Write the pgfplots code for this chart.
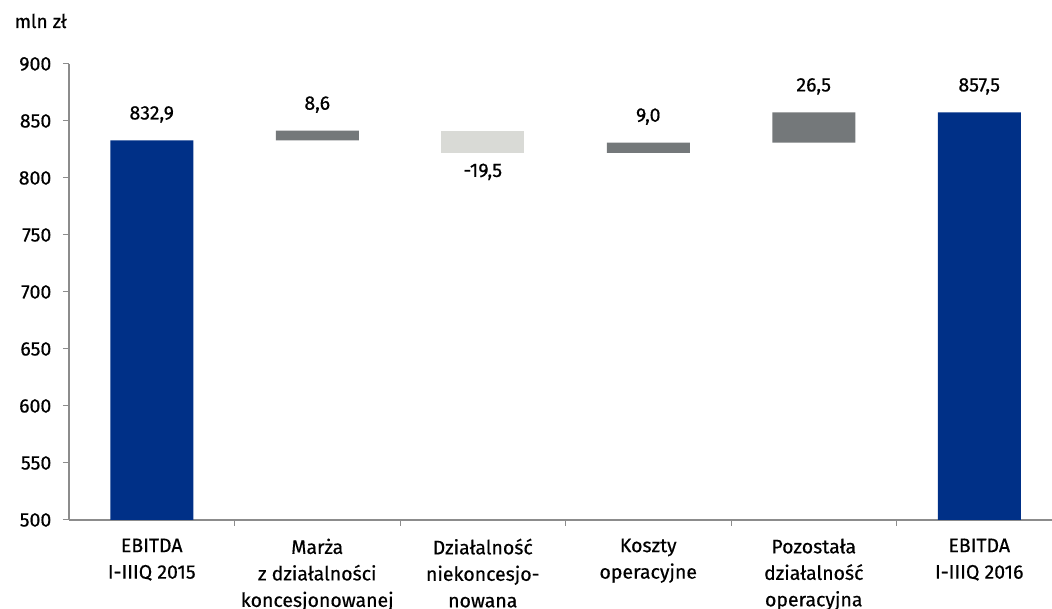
\documentclass[border=0pt]{standalone}
\usepackage{fontspec}
\setmainfont{Fira Sans}[UprightFeatures={FakeBold=0.5}]
\usepackage{pgfplots}
\pgfplotsset{compat=1.18}
\definecolor{navy}{RGB}{0,48,135}
\definecolor{dgray}{RGB}{116,120,122}
\definecolor{lgray}{RGB}{217,218,214}
\definecolor{axgray}{RGB}{140,140,140}
\begin{document}
\fontsize{19.5pt}{27pt}\selectfont
\begin{tikzpicture}[x=1pt,y=1pt]
\useasboundingbox (0,0) rectangle (1052,609);
\node[anchor=west,font=\fontsize{19pt}{20pt}\selectfont] at (8,588) {mln zł};
\begin{axis}[
  at={(69pt,89pt)}, anchor=south west,
  scale only axis, width=993pt, height=456pt,
  xmin=-0.5, xmax=5.5, ymin=500, ymax=900,
  ytick={500,550,...,900},
  /pgf/number format/assume math mode=true,
  axis lines*=left,
  axis line style={axgray, line width=1.2pt},
  every tick/.style={axgray, line width=1pt},
  tick align=outside,
  major tick length=6pt,
  ytick style={axgray},
  xtick={0,1,2,3,4,5},
  major x tick style={draw=none},
  minor xtick={0.5,1.5,2.5,3.5,4.5},
  minor tick length=6pt,
  xticklabels={{EBITDA\\I-IIIQ 2015},{Marża\\z działalności\\koncesjonowanej},{Działalność\\niekoncesjo-\\nowana},{Koszty\\operacyjne},{Pozostała\\działalność\\operacyjna},{EBITDA\\I-IIIQ 2016}},
  xticklabel style={align=center, font=\fontsize{19.5pt}{26.5pt}\selectfont, yshift=-6pt},
  yticklabel style={font=\fontsize{19.5pt}{22pt}\selectfont, xshift=-5pt},
  ybar stacked, bar width=83pt,
]
\addplot[draw=none, fill=none] coordinates {(0,0) (1,832.9) (2,822.0) (3,822.0) (4,831.0) (5,0)};
\addplot[draw=none, fill=navy] coordinates {(0,832.9) (1,0) (2,0) (3,0) (4,0) (5,857.5)};
\addplot[draw=none, fill=dgray] coordinates {(0,0) (1,8.6) (2,0) (3,9.0) (4,26.5) (5,0)};
\addplot[draw=none, fill=lgray] coordinates {(0,0) (1,0) (2,19.5) (3,0) (4,0) (5,0)};
\node[font=\fontsize{19.5pt}{22pt}\selectfont] at (axis cs:0,832.9) [yshift=26pt] {832,9};
\node[font=\fontsize{19.5pt}{22pt}\selectfont] at (axis cs:1,841.5) [yshift=26pt] {8,6};
\node[font=\fontsize{19.5pt}{22pt}\selectfont] at (axis cs:2,822.0) [yshift=-19pt] {-19,5};
\node[font=\fontsize{19.5pt}{22pt}\selectfont] at (axis cs:3,831.0) [yshift=26pt] {9,0};
\node[font=\fontsize{19.5pt}{22pt}\selectfont] at (axis cs:4,857.5) [yshift=26pt] {26,5};
\node[font=\fontsize{19.5pt}{22pt}\selectfont] at (axis cs:5,857.5) [yshift=26pt] {857,5};
\end{axis}
\end{tikzpicture}
\end{document}
